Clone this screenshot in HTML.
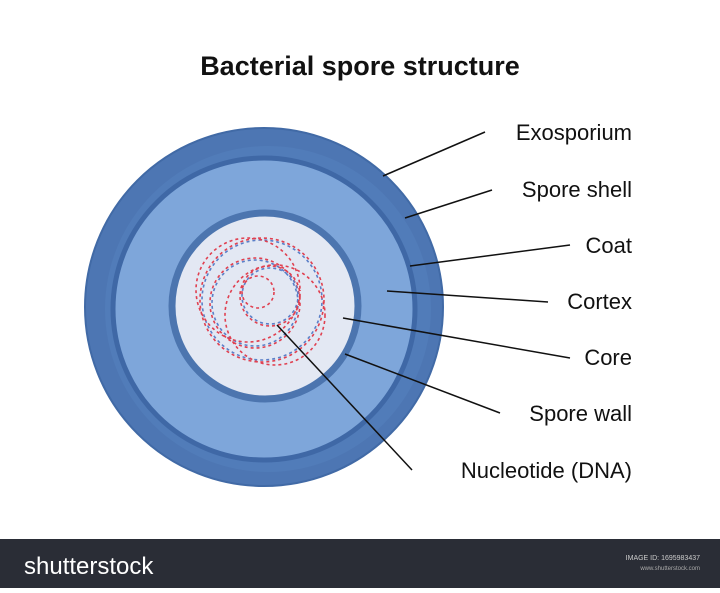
<!DOCTYPE html>
<html><head><style>
body{margin:0;width:720px;height:588px;background:#fff;overflow:hidden;font-family:"Liberation Sans",sans-serif}
</style></head><body>
<svg width="720" height="588" viewBox="0 0 720 588" xmlns="http://www.w3.org/2000/svg">
<rect width="720" height="588" fill="#fff"/>
<text x="360" y="75" text-anchor="middle" font-family="Liberation Sans" font-weight="bold" font-size="27" fill="#111">Bacterial spore structure</text>
<circle cx="264" cy="307" r="179" fill="#4d76b3" stroke="#416aa6" stroke-width="2"/>
<circle cx="268" cy="309" r="163" fill="#5580bd" opacity="0.6"/>
<circle cx="264" cy="309" r="151" fill="#7ea6da" stroke="#3f68a6" stroke-width="5"/>
<circle cx="265" cy="306" r="93" fill="#e3e8f3" stroke="#4c75af" stroke-width="7"/>
<g fill="none" stroke-width="1.6">
<circle cx="262" cy="300" r="62" stroke="#e04050" stroke-dasharray="3 3"/>
<circle cx="262" cy="300" r="60" stroke="#5a7fc8" stroke-dasharray="3 3" stroke-dashoffset="3"/>
<circle cx="255" cy="303" r="45" stroke="#e04050" stroke-dasharray="3 3"/>
<circle cx="255" cy="303" r="43" stroke="#5a7fc8" stroke-dasharray="3 3" stroke-dashoffset="3"/>
<circle cx="270" cy="296" r="30" stroke="#e04050" stroke-dasharray="3 3"/>
<circle cx="270" cy="296" r="28" stroke="#5a7fc8" stroke-dasharray="3 3" stroke-dashoffset="3"/>
<circle cx="258" cy="292" r="16" stroke="#e04050" stroke-dasharray="3 3"/>
<circle cx="275" cy="315" r="50" stroke="#e04050" stroke-dasharray="3 3"/>
<circle cx="248" cy="290" r="52" stroke="#e04050" stroke-dasharray="3 3" stroke-dashoffset="2"/>
</g>
<g stroke="#111" stroke-width="1.5">
<line x1="383" y1="176" x2="485" y2="132"/>
<line x1="405" y1="218" x2="492" y2="190"/>
<line x1="410" y1="266" x2="570" y2="245"/>
<line x1="387" y1="291" x2="548" y2="302"/>
<line x1="343" y1="318" x2="570" y2="358"/>
<line x1="345" y1="354" x2="500" y2="413"/>
<line x1="277" y1="325" x2="412" y2="470"/>
</g>
<g font-family="Liberation Sans" font-size="22" fill="#111" text-anchor="end">
<text x="632" y="140">Exosporium</text>
<text x="632" y="197">Spore shell</text>
<text x="632" y="253">Coat</text>
<text x="632" y="309">Cortex</text>
<text x="632" y="365">Core</text>
<text x="632" y="421">Spore wall</text>
<text x="632" y="478">Nucleotide (DNA)</text>
</g>
<rect x="0" y="539" width="720" height="49" fill="#2a2d36"/>
<text x="24" y="574" font-family="Liberation Sans" font-size="24" fill="#fff">shutterstock</text>
<text x="700" y="560" text-anchor="end" font-family="Liberation Sans" font-size="7" fill="#ccc">IMAGE ID: 1695983437</text>
<text x="700" y="570" text-anchor="end" font-family="Liberation Sans" font-size="6" fill="#aaa">www.shutterstock.com</text>
</svg>
</body></html>
